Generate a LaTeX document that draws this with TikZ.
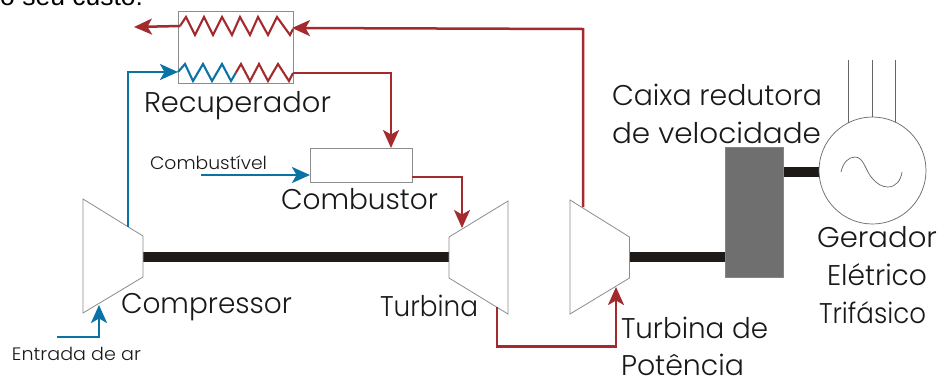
\documentclass[tikz,border=0pt]{standalone}
\usepackage{graphicx}
\usepackage{fontspec}
\setmainfont{Poppins Light}
\newfontfamily\arialf{Liberation Sans}
\usetikzlibrary{arrows.meta}
\definecolor{hotred}{HTML}{A32B2D}
\definecolor{coolblue}{HTML}{0B72A6}
\definecolor{outl}{HTML}{8C8C8C}
\definecolor{shaftc}{HTML}{1E1A18}
\definecolor{gearc}{HTML}{6F6F6F}
\newcommand{\fitw}[2]{\resizebox{#1pt}{\height}{#2}}
\tikzset{
  x=1pt,y=-1pt,
  lab/.style={anchor=base west,inner sep=0pt,outer sep=0pt,font=\fontsize{28.5}{30}\selectfont,text=black!90},
  smalllab/.style={anchor=base west,inner sep=0pt,outer sep=0pt,font=\fontsize{18}{20}\selectfont,text=black!90},
  hotpipe/.style={draw=hotred,line width=2.5pt,-{Stealth[length=18pt,width=16pt,inset=4.5pt]}},
  coolpipe/.style={draw=coolblue,line width=2.5pt,-{Stealth[length=18pt,width=16pt,inset=4.5pt]}},
  hotcoil/.style={draw=hotred,line width=2.1pt,line join=miter},
  coolcoil/.style={draw=coolblue,line width=2.1pt,line join=miter},
  machine/.style={draw=outl,line width=0.8pt,fill=white,line join=miter},
  boxnode/.style={draw=outl,line width=0.8pt,fill=white,inner sep=0pt,outer sep=0pt,anchor=north west},
  shaft/.style={draw=none,fill=shaftc},
  thinline/.style={draw=black!60,line width=0.7pt},
}
\begin{document}
\begin{tikzpicture}
\useasboundingbox (0,0) rectangle (940,381);
\node[anchor=base west,inner sep=0pt,font=\arialf\fontsize{26.5}{28}\selectfont] (topline) at (0,5) {o seu custo:};

% shafts
\fill[shaft] (142,252) rectangle (450,262);
\fill[shaft] (629,252) rectangle (726,262);
\fill[shaft] (783,167) rectangle (820,177);

% machines
\draw[machine] (83,199) coordinate (ca) -- (143,236) -- (143,277) -- (83,313) -- cycle;
\draw[machine] (449,237) -- (508,201) -- (508,314) -- (449,278) -- cycle;
\draw[machine] (570,200) -- (629.5,237) -- (629.5,278) -- (570,314) -- cycle;
\coordinate (compOut) at (128,227);
\coordinate (compIn) at (99,305);
\coordinate (turbIn) at (462,228);
\coordinate (turbOut) at (497,307);
\coordinate (ptIn) at (616,287);
\coordinate (ptOut) at (583,207);

% recuperator
\node[boxnode,minimum width=114.5pt,minimum height=71.5pt] (rec) at (178.5,11.5) {};
\coordinate (recHotIn) at (292,28);
\coordinate (recHotOut) at (180,26);
\coordinate (recCoolIn) at (178,72);
\coordinate (recCoolOut) at (293,73);
\coordinate (exhaust) at (134,27);
\draw[hotcoil] (recHotOut) -- (186,17) -- (195,35) -- (204,17) -- (213,35) -- (222,17) -- (232,35) -- (240,17) -- (250,35) -- (258,17) -- (268,35) -- (277,17) -- (290,35) -- (293,29);
\draw[coolcoil] (recCoolIn) -- (185,64) -- (193,81) -- (203,64) -- (212,81) -- (222,64) -- (231,81) -- (236,72.5);
\draw[hotcoil] (236,72.5) -- (241,64) -- (250,81) -- (259,64) -- (268,81) -- (278,64) -- (289,81) -- (recCoolOut);

% combustor
\node[boxnode,minimum width=102pt,minimum height=34pt] (comb) at (310,148) {};
\coordinate (fuel) at (201,175);

% gearbox
\node[draw=gearc!85,fill=gearc,inner sep=0pt,outer sep=0pt,anchor=north west,minimum width=58pt,minimum height=130pt] (gear) at (725,147) {};

% generator
\node[circle,draw=black!60,line width=0.7pt,fill=white,inner sep=0pt,outer sep=0pt,minimum size=107pt] (gen) at (872.5,170.5) {};
\coordinate (w1) at (848,60);
\coordinate (w2) at (872,60);
\coordinate (w3) at (895,60);
\draw[thinline] (w1) -- (848,123);
\draw[thinline] (w2) -- (872,117);
\draw[thinline] (w3) -- (895,122);
\draw[thinline] (841,172) .. controls (843,163) and (848,157) .. (855,157)
  .. controls (864,157) and (866,172) .. (872,178)
  .. controls (877,184) and (882,187) .. (888,187)
  .. controls (896,187) and (901,180) .. (902,172);

% pipes
\draw[hotpipe] (ptOut) -- (583,29) -- (recHotIn);
\draw[hotpipe] (recHotOut) -- (exhaust);
\draw[hotpipe] (recCoolOut) -- (391,73) -- (391,148);
\draw[hotpipe] (comb.east |- 0,177) -- (462,177) -- (turbIn);
\draw[hotpipe] (turbOut) -- (497,346.5) -- (616,346.5) -- (ptIn);
\draw[coolpipe] (compOut) -- (128,72) -- (recCoolIn);
\draw[coolpipe] (fuel) -- (comb.west |- 0,175);
\coordinate (air) at (57,337);
\draw[coolpipe] (air) -- (99,337) -- (compIn);

% labels
\node[lab] (lrec) at (144,112) {\fitw{187}{Recuperador}};
\node[lab] (lcomb) at (281,209) {\fitw{157}{Combustor}};
\node[lab] (lcompr) at (121,313) {\fitw{171}{Compressor}};
\node[lab] (lturb) at (380,316) {\fitw{98}{Turbina}};
\node[lab] (lcaixa) at (612,105) {\fitw{210}{Caixa redutora}};
\node[lab] (lvel) at (612,143) {\fitw{209}{de velocidade}};
\node[lab] (lger) at (817,247) {\fitw{120}{Gerador}};
\node[lab] (lele) at (827,285) {\fitw{100}{Elétrico}};
\node[lab] (ltri) at (819,323) {\fitw{107}{Trifásico}};
\node[lab] (lpt) at (621,338) {\fitw{147}{Turbina de}};
\node[lab] (lpot) at (621,375) {\fitw{123}{Potência}};
\node[smalllab] (lfuel) at (150,169) {\fitw{117}{Combustível}};
\node[smalllab] (lair) at (12,360) {\fitw{129}{Entrada de ar}};
\end{tikzpicture}
\end{document}
